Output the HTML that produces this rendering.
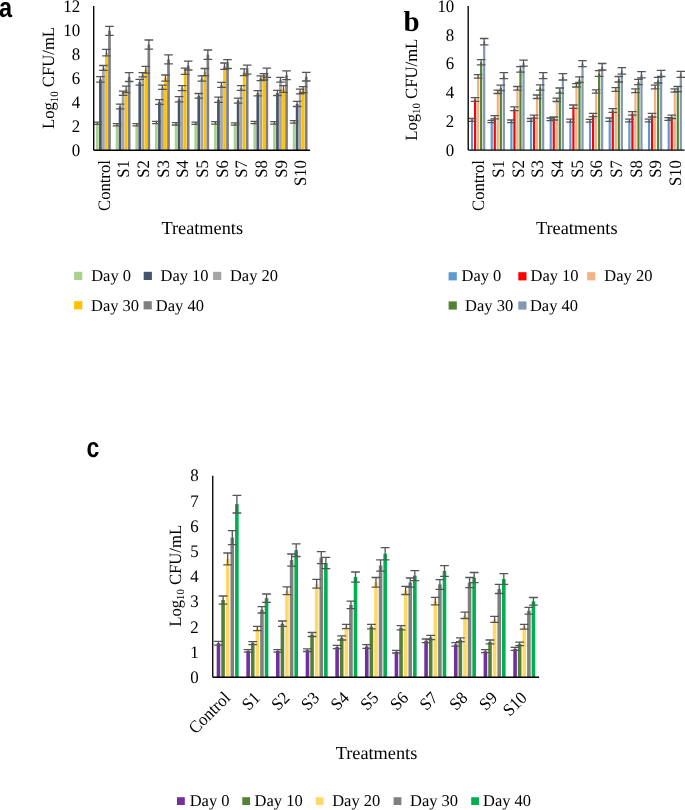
<!DOCTYPE html>
<html><head><meta charset="utf-8"><style>
html,body{margin:0;padding:0;background:#fff;}
body{width:685px;height:810px;overflow:hidden;}
svg{display:block;will-change:transform;}
text{font-family:"Liberation Serif", serif;fill:#000;text-rendering:geometricPrecision;}
.tk{font-size:17.6px;}
.xl{font-size:17.4px;}
.tr{font-size:18.3px;}
.yt{font-size:17.2px;}
.lg{font-size:16.5px;}
.lab{font-family:"Liberation Sans", sans-serif;font-weight:bold;font-size:28px;}
.labb{font-family:"Liberation Serif", serif;font-weight:bold;font-size:29px;}
</style></head><body>
<svg width="685" height="810" viewBox="0 0 685 810">
<rect x="96.03" y="123.3" width="2.7" height="26.7" fill="#A9D18E"/>
<rect x="99.06" y="79.4" width="2.7" height="70.6" fill="#44546A"/>
<rect x="102.09" y="67.9" width="2.7" height="82.1" fill="#A5A5A5"/>
<rect x="105.11" y="52.65" width="2.7" height="97.35" fill="#FFC000"/>
<rect x="108.14" y="30.8" width="2.7" height="119.2" fill="#7F7F7F"/>
<rect x="115.71" y="124.8" width="2.7" height="25.2" fill="#A9D18E"/>
<rect x="118.73" y="106.5" width="2.7" height="43.5" fill="#44546A"/>
<rect x="121.76" y="93.25" width="2.7" height="56.75" fill="#A5A5A5"/>
<rect x="124.79" y="89.35" width="2.7" height="60.65" fill="#FFC000"/>
<rect x="127.81" y="77.05" width="2.7" height="72.95" fill="#7F7F7F"/>
<rect x="135.38" y="124.8" width="2.7" height="25.2" fill="#A9D18E"/>
<rect x="138.41" y="82.25" width="2.7" height="67.75" fill="#44546A"/>
<rect x="141.43" y="74.75" width="2.7" height="75.25" fill="#A5A5A5"/>
<rect x="144.46" y="69.7" width="2.7" height="80.3" fill="#FFC000"/>
<rect x="147.48" y="44.55" width="2.7" height="105.45" fill="#7F7F7F"/>
<rect x="155.05" y="122.5" width="2.7" height="27.5" fill="#A9D18E"/>
<rect x="158.08" y="101.95" width="2.7" height="48.05" fill="#44546A"/>
<rect x="161.1" y="87.3" width="2.7" height="62.7" fill="#A5A5A5"/>
<rect x="164.13" y="78.05" width="2.7" height="71.95" fill="#FFC000"/>
<rect x="167.16" y="59.35" width="2.7" height="90.65" fill="#7F7F7F"/>
<rect x="174.72" y="123.8" width="2.7" height="26.2" fill="#A9D18E"/>
<rect x="177.75" y="99.3" width="2.7" height="50.7" fill="#44546A"/>
<rect x="180.78" y="88.2" width="2.7" height="61.8" fill="#A5A5A5"/>
<rect x="183.8" y="71.25" width="2.7" height="78.75" fill="#FFC000"/>
<rect x="186.83" y="65.55" width="2.7" height="84.45" fill="#7F7F7F"/>
<rect x="194.4" y="123.3" width="2.7" height="26.7" fill="#A9D18E"/>
<rect x="197.42" y="95.8" width="2.7" height="54.2" fill="#44546A"/>
<rect x="200.45" y="78.5" width="2.7" height="71.5" fill="#A5A5A5"/>
<rect x="203.48" y="72.05" width="2.7" height="77.95" fill="#FFC000"/>
<rect x="206.5" y="54.65" width="2.7" height="95.35" fill="#7F7F7F"/>
<rect x="214.07" y="122.9" width="2.7" height="27.1" fill="#A9D18E"/>
<rect x="217.1" y="99.8" width="2.7" height="50.2" fill="#44546A"/>
<rect x="220.12" y="84.9" width="2.7" height="65.1" fill="#A5A5A5"/>
<rect x="223.15" y="66.2" width="2.7" height="83.8" fill="#FFC000"/>
<rect x="226.18" y="64.05" width="2.7" height="85.95" fill="#7F7F7F"/>
<rect x="233.74" y="124" width="2.7" height="26" fill="#A9D18E"/>
<rect x="236.77" y="100.6" width="2.7" height="49.4" fill="#44546A"/>
<rect x="239.8" y="88.05" width="2.7" height="61.95" fill="#A5A5A5"/>
<rect x="242.82" y="72.25" width="2.7" height="77.75" fill="#FFC000"/>
<rect x="245.85" y="69.65" width="2.7" height="80.35" fill="#7F7F7F"/>
<rect x="253.42" y="122.5" width="2.7" height="27.5" fill="#A9D18E"/>
<rect x="256.44" y="93.3" width="2.7" height="56.7" fill="#44546A"/>
<rect x="259.47" y="78.25" width="2.7" height="71.75" fill="#A5A5A5"/>
<rect x="262.49" y="76.85" width="2.7" height="73.15" fill="#FFC000"/>
<rect x="265.52" y="72.75" width="2.7" height="77.25" fill="#7F7F7F"/>
<rect x="273.09" y="122.9" width="2.7" height="27.1" fill="#A9D18E"/>
<rect x="276.11" y="92.95" width="2.7" height="57.05" fill="#44546A"/>
<rect x="279.14" y="79.7" width="2.7" height="70.3" fill="#A5A5A5"/>
<rect x="282.17" y="89.05" width="2.7" height="60.95" fill="#FFC000"/>
<rect x="285.19" y="75.2" width="2.7" height="74.8" fill="#7F7F7F"/>
<rect x="292.76" y="121.9" width="2.7" height="28.1" fill="#A9D18E"/>
<rect x="295.79" y="103.9" width="2.7" height="46.1" fill="#44546A"/>
<rect x="298.81" y="91.55" width="2.7" height="58.45" fill="#A5A5A5"/>
<rect x="301.84" y="89.65" width="2.7" height="60.35" fill="#FFC000"/>
<rect x="304.87" y="76.65" width="2.7" height="73.35" fill="#7F7F7F"/>
<path d="M97.38 122.2V124.4M93.08 122.2h8.6M93.08 124.4h8.6M100.41 76.7V82.1M96.11 76.7h8.6M96.11 82.1h8.6M103.44 65.5V70.3M99.14 65.5h8.6M99.14 70.3h8.6M106.46 49.4V55.9M102.16 49.4h8.6M102.16 55.9h8.6M109.49 26.3V35.3M105.19 26.3h8.6M105.19 35.3h8.6M117.06 123.7V125.9M112.76 123.7h8.6M112.76 125.9h8.6M120.08 104.1V108.9M115.78 104.1h8.6M115.78 108.9h8.6M123.11 91.1V95.4M118.81 91.1h8.6M118.81 95.4h8.6M126.14 86.1V92.6M121.84 86.1h8.6M121.84 92.6h8.6M129.16 72.6V81.5M124.86 72.6h8.6M124.86 81.5h8.6M136.73 123.7V125.9M132.43 123.7h8.6M132.43 125.9h8.6M139.76 79.3V85.2M135.46 79.3h8.6M135.46 85.2h8.6M142.78 72.6V76.9M138.48 72.6h8.6M138.48 76.9h8.6M145.81 66.3V73.1M141.51 66.3h8.6M141.51 73.1h8.6M148.83 40V49.1M144.53 40h8.6M144.53 49.1h8.6M156.4 121.3V123.7M152.1 121.3h8.6M152.1 123.7h8.6M159.43 99.6V104.3M155.13 99.6h8.6M155.13 104.3h8.6M162.45 85.2V89.4M158.15 85.2h8.6M158.15 89.4h8.6M165.48 75V81.1M161.18 75h8.6M161.18 81.1h8.6M168.51 54.8V63.9M164.21 54.8h8.6M164.21 63.9h8.6M176.07 122.6V125M171.77 122.6h8.6M171.77 125h8.6M179.1 96.7V101.9M174.8 96.7h8.6M174.8 101.9h8.6M182.13 85.7V90.7M177.83 85.7h8.6M177.83 90.7h8.6M185.15 68.1V74.4M180.85 68.1h8.6M180.85 74.4h8.6M188.18 61.1V70M183.88 61.1h8.6M183.88 70h8.6M195.75 122.2V124.4M191.45 122.2h8.6M191.45 124.4h8.6M198.77 93.5V98.1M194.47 93.5h8.6M194.47 98.1h8.6M201.8 75.9V81.1M197.5 75.9h8.6M197.5 81.1h8.6M204.83 68.5V75.6M200.53 68.5h8.6M200.53 75.6h8.6M207.85 50V59.3M203.55 50h8.6M203.55 59.3h8.6M215.42 121.7V124.1M211.12 121.7h8.6M211.12 124.1h8.6M218.45 97.2V102.4M214.15 97.2h8.6M214.15 102.4h8.6M221.47 82.4V87.4M217.17 82.4h8.6M217.17 87.4h8.6M224.5 63V69.4M220.2 63h8.6M220.2 69.4h8.6M227.53 59.6V68.5M223.23 59.6h8.6M223.23 68.5h8.6M235.09 122.8V125.2M230.79 122.8h8.6M230.79 125.2h8.6M238.12 98.1V103.1M233.82 98.1h8.6M233.82 103.1h8.6M241.15 85.7V90.4M236.85 85.7h8.6M236.85 90.4h8.6M244.17 68.9V75.6M239.87 68.9h8.6M239.87 75.6h8.6M247.2 65.2V74.1M242.9 65.2h8.6M242.9 74.1h8.6M254.77 121.3V123.7M250.47 121.3h8.6M250.47 123.7h8.6M257.79 90.7V95.9M253.49 90.7h8.6M253.49 95.9h8.6M260.82 75.9V80.6M256.52 75.9h8.6M256.52 80.6h8.6M263.84 73.7V80M259.54 73.7h8.6M259.54 80h8.6M266.87 68.1V77.4M262.57 68.1h8.6M262.57 77.4h8.6M274.44 121.7V124.1M270.14 121.7h8.6M270.14 124.1h8.6M277.46 90.4V95.5M273.16 90.4h8.6M273.16 95.5h8.6M280.49 77.3V82.1M276.19 77.3h8.6M276.19 82.1h8.6M283.52 85.7V92.4M279.22 85.7h8.6M279.22 92.4h8.6M286.54 70.8V79.6M282.24 70.8h8.6M282.24 79.6h8.6M294.11 120.7V123.1M289.81 120.7h8.6M289.81 123.1h8.6M297.14 101.3V106.5M292.84 101.3h8.6M292.84 106.5h8.6M300.16 89.2V93.9M295.86 89.2h8.6M295.86 93.9h8.6M303.19 86.7V92.6M298.89 86.7h8.6M298.89 92.6h8.6M306.22 72.3V81M301.92 72.3h8.6M301.92 81h8.6" stroke="#555555" stroke-width="1.3" fill="none"/>
<path d="M93.7 6V150.2M93.7 150.2H310" stroke="#000" stroke-width="1.35" fill="none"/>
<text transform="translate(80.2 150) scale(0.96 1)" text-anchor="end" class="tk" dy="5.7">0</text>
<text transform="translate(80.2 126) scale(0.96 1)" text-anchor="end" class="tk" dy="5.7">2</text>
<text transform="translate(80.2 102) scale(0.96 1)" text-anchor="end" class="tk" dy="5.7">4</text>
<text transform="translate(80.2 78) scale(0.96 1)" text-anchor="end" class="tk" dy="5.7">6</text>
<text transform="translate(80.2 54) scale(0.96 1)" text-anchor="end" class="tk" dy="5.7">8</text>
<text transform="translate(80.2 30) scale(0.96 1)" text-anchor="end" class="tk" dy="5.7">10</text>
<text transform="translate(80.2 6) scale(0.96 1)" text-anchor="end" class="tk" dy="5.7">12</text>
<text transform="translate(103.44 160.2) rotate(-90) scale(0.955 1)" text-anchor="end" class="xl" dy="6.1">Control</text>
<text transform="translate(123.11 160.2) rotate(-90) scale(0.955 1)" text-anchor="end" class="xl" dy="6.1">S1</text>
<text transform="translate(142.78 160.2) rotate(-90) scale(0.955 1)" text-anchor="end" class="xl" dy="6.1">S2</text>
<text transform="translate(162.45 160.2) rotate(-90) scale(0.955 1)" text-anchor="end" class="xl" dy="6.1">S3</text>
<text transform="translate(182.13 160.2) rotate(-90) scale(0.955 1)" text-anchor="end" class="xl" dy="6.1">S4</text>
<text transform="translate(201.8 160.2) rotate(-90) scale(0.955 1)" text-anchor="end" class="xl" dy="6.1">S5</text>
<text transform="translate(221.47 160.2) rotate(-90) scale(0.955 1)" text-anchor="end" class="xl" dy="6.1">S6</text>
<text transform="translate(241.15 160.2) rotate(-90) scale(0.955 1)" text-anchor="end" class="xl" dy="6.1">S7</text>
<text transform="translate(260.82 160.2) rotate(-90) scale(0.955 1)" text-anchor="end" class="xl" dy="6.1">S8</text>
<text transform="translate(280.49 160.2) rotate(-90) scale(0.955 1)" text-anchor="end" class="xl" dy="6.1">S9</text>
<text transform="translate(300.16 160.2) rotate(-90) scale(0.955 1)" text-anchor="end" class="xl" dy="6.1">S10</text>
<text transform="translate(202.2 233.9) scale(1.0 1)" text-anchor="middle" class="tr">Treatments</text>
<text transform="translate(54.3 78) rotate(-90) scale(0.97 1)" text-anchor="middle" class="yt">Log<tspan font-size="11.2" dy="3.2">10</tspan><tspan dy="-3.2"> CFU/mL</tspan></text>
<rect x="74.1" y="271.8" width="8.2" height="8.2" fill="#A9D18E"/>
<text x="91.2" y="281.2" class="lg">Day 0</text>
<rect x="143.7" y="271.8" width="8.2" height="8.2" fill="#44546A"/>
<text x="160.5" y="281.2" class="lg">Day 10</text>
<rect x="213.1" y="271.8" width="8.2" height="8.2" fill="#A5A5A5"/>
<text x="229.9" y="281.2" class="lg">Day 20</text>
<rect x="74.1" y="301.2" width="8.2" height="8.2" fill="#FFC000"/>
<text x="91" y="310.5" class="lg">Day 30</text>
<rect x="143.6" y="301.2" width="8.2" height="8.2" fill="#7F7F7F"/>
<text x="155.8" y="310.5" class="lg">Day 40</text>
<text transform="translate(-0.9 17.3) scale(0.84 1)" class="lab">a</text>
<rect x="470.98" y="119.9" width="2.2" height="30.1" fill="#5B9BD5"/>
<rect x="474.01" y="99.45" width="2.2" height="50.55" fill="#FF0000"/>
<rect x="477.03" y="76.35" width="2.2" height="73.65" fill="#F4B183"/>
<rect x="480.06" y="62.2" width="2.2" height="87.8" fill="#548235"/>
<rect x="483.08" y="41.65" width="2.2" height="108.35" fill="#8497B0"/>
<rect x="490.65" y="121.5" width="2.2" height="28.5" fill="#5B9BD5"/>
<rect x="493.67" y="117.3" width="2.2" height="32.7" fill="#FF0000"/>
<rect x="496.7" y="91.85" width="2.2" height="58.15" fill="#F4B183"/>
<rect x="499.72" y="87.95" width="2.2" height="62.05" fill="#548235"/>
<rect x="502.75" y="75.65" width="2.2" height="74.35" fill="#8497B0"/>
<rect x="510.31" y="121.3" width="2.2" height="28.7" fill="#5B9BD5"/>
<rect x="513.33" y="108.75" width="2.2" height="41.25" fill="#FF0000"/>
<rect x="516.36" y="88.35" width="2.2" height="61.65" fill="#F4B183"/>
<rect x="519.38" y="69.45" width="2.2" height="80.55" fill="#548235"/>
<rect x="522.41" y="63.15" width="2.2" height="86.85" fill="#8497B0"/>
<rect x="529.97" y="119.9" width="2.2" height="30.1" fill="#5B9BD5"/>
<rect x="533" y="116.65" width="2.2" height="33.35" fill="#FF0000"/>
<rect x="536.02" y="96.75" width="2.2" height="53.25" fill="#F4B183"/>
<rect x="539.05" y="87.5" width="2.2" height="62.5" fill="#548235"/>
<rect x="542.07" y="75.65" width="2.2" height="74.35" fill="#8497B0"/>
<rect x="549.64" y="119.35" width="2.2" height="30.65" fill="#5B9BD5"/>
<rect x="552.66" y="118.5" width="2.2" height="31.5" fill="#FF0000"/>
<rect x="555.69" y="99.8" width="2.2" height="50.2" fill="#F4B183"/>
<rect x="558.71" y="90.55" width="2.2" height="59.45" fill="#548235"/>
<rect x="561.74" y="76.85" width="2.2" height="73.15" fill="#8497B0"/>
<rect x="569.3" y="120.65" width="2.2" height="29.35" fill="#5B9BD5"/>
<rect x="572.32" y="106.65" width="2.2" height="43.35" fill="#FF0000"/>
<rect x="575.35" y="85.35" width="2.2" height="64.65" fill="#F4B183"/>
<rect x="578.38" y="79.65" width="2.2" height="70.35" fill="#548235"/>
<rect x="581.4" y="63.65" width="2.2" height="86.35" fill="#8497B0"/>
<rect x="588.96" y="120.8" width="2.2" height="29.2" fill="#5B9BD5"/>
<rect x="591.99" y="115" width="2.2" height="35" fill="#FF0000"/>
<rect x="595.01" y="91.45" width="2.2" height="58.55" fill="#F4B183"/>
<rect x="598.04" y="73.5" width="2.2" height="76.5" fill="#548235"/>
<rect x="601.06" y="66.75" width="2.2" height="83.25" fill="#8497B0"/>
<rect x="608.63" y="119.65" width="2.2" height="30.35" fill="#5B9BD5"/>
<rect x="611.65" y="110.55" width="2.2" height="39.45" fill="#FF0000"/>
<rect x="614.68" y="89.45" width="2.2" height="60.55" fill="#F4B183"/>
<rect x="617.7" y="79.25" width="2.2" height="70.75" fill="#548235"/>
<rect x="620.73" y="70.85" width="2.2" height="79.15" fill="#8497B0"/>
<rect x="628.29" y="120.5" width="2.2" height="29.5" fill="#5B9BD5"/>
<rect x="631.32" y="113.45" width="2.2" height="36.55" fill="#FF0000"/>
<rect x="634.34" y="90.75" width="2.2" height="59.25" fill="#F4B183"/>
<rect x="637.37" y="81.95" width="2.2" height="68.05" fill="#548235"/>
<rect x="640.39" y="74.75" width="2.2" height="75.25" fill="#8497B0"/>
<rect x="647.95" y="120.5" width="2.2" height="29.5" fill="#5B9BD5"/>
<rect x="650.98" y="115.15" width="2.2" height="34.85" fill="#FF0000"/>
<rect x="654" y="87.05" width="2.2" height="62.95" fill="#F4B183"/>
<rect x="657.03" y="80.2" width="2.2" height="69.8" fill="#548235"/>
<rect x="660.05" y="73.45" width="2.2" height="76.55" fill="#8497B0"/>
<rect x="667.62" y="119" width="2.2" height="31" fill="#5B9BD5"/>
<rect x="670.64" y="116.85" width="2.2" height="33.15" fill="#FF0000"/>
<rect x="673.67" y="90.55" width="2.2" height="59.45" fill="#F4B183"/>
<rect x="676.69" y="89.1" width="2.2" height="60.9" fill="#548235"/>
<rect x="679.72" y="74.35" width="2.2" height="75.65" fill="#8497B0"/>
<path d="M472.08 118.5V121.3M467.78 118.5h8.6M467.78 121.3h8.6M475.11 97.6V101.3M470.81 97.6h8.6M470.81 101.3h8.6M478.13 74.6V78.1M473.83 74.6h8.6M473.83 78.1h8.6M481.16 59.6V64.8M476.86 59.6h8.6M476.86 64.8h8.6M484.18 38.5V44.8M479.88 38.5h8.6M479.88 44.8h8.6M491.75 120.4V122.6M487.45 120.4h8.6M487.45 122.6h8.6M494.77 115.7V118.9M490.47 115.7h8.6M490.47 118.9h8.6M497.8 90.2V93.5M493.5 90.2h8.6M493.5 93.5h8.6M500.82 85.2V90.7M496.52 85.2h8.6M496.52 90.7h8.6M503.85 72.6V78.7M499.55 72.6h8.6M499.55 78.7h8.6M511.41 120V122.6M507.11 120h8.6M507.11 122.6h8.6M514.43 106.9V110.6M510.13 106.9h8.6M510.13 110.6h8.6M517.46 86.5V90.2M513.16 86.5h8.6M513.16 90.2h8.6M520.48 66.7V72.2M516.18 66.7h8.6M516.18 72.2h8.6M523.51 60.2V66.1M519.21 60.2h8.6M519.21 66.1h8.6M531.07 118.5V121.3M526.77 118.5h8.6M526.77 121.3h8.6M534.1 115.2V118.1M529.8 115.2h8.6M529.8 118.1h8.6M537.12 95V98.5M532.82 95h8.6M532.82 98.5h8.6M540.15 84.8V90.2M535.85 84.8h8.6M535.85 90.2h8.6M543.17 72.6V78.7M538.87 72.6h8.6M538.87 78.7h8.6M550.74 118V120.7M546.44 118h8.6M546.44 120.7h8.6M553.76 117V120M549.46 117h8.6M549.46 120h8.6M556.79 98.1V101.5M552.49 98.1h8.6M552.49 101.5h8.6M559.81 88V93.1M555.51 88h8.6M555.51 93.1h8.6M562.84 73.7V80M558.54 73.7h8.6M558.54 80h8.6M570.4 119.1V122.2M566.1 119.1h8.6M566.1 122.2h8.6M573.42 105V108.3M569.12 105h8.6M569.12 108.3h8.6M576.45 83.7V87M572.15 83.7h8.6M572.15 87h8.6M579.48 76.9V82.4M575.18 76.9h8.6M575.18 82.4h8.6M582.5 60.6V66.7M578.2 60.6h8.6M578.2 66.7h8.6M590.06 119.4V122.2M585.76 119.4h8.6M585.76 122.2h8.6M593.09 113.3V116.7M588.79 113.3h8.6M588.79 116.7h8.6M596.11 89.8V93.1M591.81 89.8h8.6M591.81 93.1h8.6M599.14 70.7V76.3M594.84 70.7h8.6M594.84 76.3h8.6M602.16 63.5V70M597.86 63.5h8.6M597.86 70h8.6M609.73 118V121.3M605.43 118h8.6M605.43 121.3h8.6M612.75 108.7V112.4M608.45 108.7h8.6M608.45 112.4h8.6M615.78 87.6V91.3M611.48 87.6h8.6M611.48 91.3h8.6M618.8 76.5V82M614.5 76.5h8.6M614.5 82h8.6M621.83 67.6V74.1M617.53 67.6h8.6M617.53 74.1h8.6M629.39 119.1V121.9M625.09 119.1h8.6M625.09 121.9h8.6M632.42 111.7V115.2M628.12 111.7h8.6M628.12 115.2h8.6M635.44 88.9V92.6M631.14 88.9h8.6M631.14 92.6h8.6M638.47 79.3V84.6M634.17 79.3h8.6M634.17 84.6h8.6M641.49 71.7V77.8M637.19 71.7h8.6M637.19 77.8h8.6M649.05 119.1V121.9M644.75 119.1h8.6M644.75 121.9h8.6M652.08 113.3V117M647.78 113.3h8.6M647.78 117h8.6M655.1 85.2V88.9M650.8 85.2h8.6M650.8 88.9h8.6M658.13 77.4V83M653.83 77.4h8.6M653.83 83h8.6M661.15 70.4V76.5M656.85 70.4h8.6M656.85 76.5h8.6M668.72 117.6V120.4M664.42 117.6h8.6M664.42 120.4h8.6M671.74 115.2V118.5M667.44 115.2h8.6M667.44 118.5h8.6M674.77 88.9V92.2M670.47 88.9h8.6M670.47 92.2h8.6M677.79 86.5V91.7M673.49 86.5h8.6M673.49 91.7h8.6M680.82 71.3V77.4M676.52 71.3h8.6M676.52 77.4h8.6" stroke="#555555" stroke-width="1.3" fill="none"/>
<path d="M468.2 6V150.1M468.2 150.1H684.6" stroke="#000" stroke-width="1.35" fill="none"/>
<text transform="translate(454.3 150) scale(0.96 1)" text-anchor="end" class="tk" dy="5.7">0</text>
<text transform="translate(454.3 121.2) scale(0.96 1)" text-anchor="end" class="tk" dy="5.7">2</text>
<text transform="translate(454.3 92.4) scale(0.96 1)" text-anchor="end" class="tk" dy="5.7">4</text>
<text transform="translate(454.3 63.6) scale(0.96 1)" text-anchor="end" class="tk" dy="5.7">6</text>
<text transform="translate(454.3 34.8) scale(0.96 1)" text-anchor="end" class="tk" dy="5.7">8</text>
<text transform="translate(454.3 6) scale(0.96 1)" text-anchor="end" class="tk" dy="5.7">10</text>
<text transform="translate(478.13 160.2) rotate(-90) scale(0.955 1)" text-anchor="end" class="xl" dy="6.1">Control</text>
<text transform="translate(497.8 160.2) rotate(-90) scale(0.955 1)" text-anchor="end" class="xl" dy="6.1">S1</text>
<text transform="translate(517.46 160.2) rotate(-90) scale(0.955 1)" text-anchor="end" class="xl" dy="6.1">S2</text>
<text transform="translate(537.12 160.2) rotate(-90) scale(0.955 1)" text-anchor="end" class="xl" dy="6.1">S3</text>
<text transform="translate(556.79 160.2) rotate(-90) scale(0.955 1)" text-anchor="end" class="xl" dy="6.1">S4</text>
<text transform="translate(576.45 160.2) rotate(-90) scale(0.955 1)" text-anchor="end" class="xl" dy="6.1">S5</text>
<text transform="translate(596.11 160.2) rotate(-90) scale(0.955 1)" text-anchor="end" class="xl" dy="6.1">S6</text>
<text transform="translate(615.78 160.2) rotate(-90) scale(0.955 1)" text-anchor="end" class="xl" dy="6.1">S7</text>
<text transform="translate(635.44 160.2) rotate(-90) scale(0.955 1)" text-anchor="end" class="xl" dy="6.1">S8</text>
<text transform="translate(655.1 160.2) rotate(-90) scale(0.955 1)" text-anchor="end" class="xl" dy="6.1">S9</text>
<text transform="translate(674.77 160.2) rotate(-90) scale(0.955 1)" text-anchor="end" class="xl" dy="6.1">S10</text>
<text transform="translate(576.7 233.9) scale(1.0 1)" text-anchor="middle" class="tr">Treatments</text>
<text transform="translate(416.8 89.75) rotate(-90) scale(0.97 1)" text-anchor="middle" class="yt">Log<tspan font-size="11.2" dy="3.2">10</tspan><tspan dy="-3.2"> CFU/mL</tspan></text>
<rect x="448.6" y="272.2" width="8.2" height="8.2" fill="#5B9BD5"/>
<text x="461.5" y="281.2" class="lg">Day 0</text>
<rect x="518.3" y="272.2" width="8.2" height="8.2" fill="#FF0000"/>
<text x="530.5" y="281.2" class="lg">Day 10</text>
<rect x="587.2" y="272.2" width="8.2" height="8.2" fill="#F4B183"/>
<text x="604.3" y="281.2" class="lg">Day 20</text>
<rect x="448.6" y="301.4" width="8.2" height="8.2" fill="#548235"/>
<text x="465.1" y="310.5" class="lg">Day 30</text>
<rect x="518.3" y="301.4" width="8.2" height="8.2" fill="#8497B0"/>
<text x="529.9" y="310.5" class="lg">Day 40</text>
<text x="403.5" y="31.3" class="labb">b</text>
<rect x="216.68" y="643.2" width="3.6" height="34" fill="#7030A0"/>
<rect x="221.28" y="600.05" width="3.6" height="77.15" fill="#548235"/>
<rect x="225.88" y="558.95" width="3.6" height="118.25" fill="#FFD966"/>
<rect x="230.48" y="537.65" width="3.6" height="139.55" fill="#808080"/>
<rect x="235.08" y="504.15" width="3.6" height="173.05" fill="#00B050"/>
<rect x="246.34" y="650.95" width="3.6" height="26.25" fill="#7030A0"/>
<rect x="250.94" y="643.1" width="3.6" height="34.1" fill="#548235"/>
<rect x="255.54" y="628.55" width="3.6" height="48.65" fill="#FFD966"/>
<rect x="260.14" y="609.8" width="3.6" height="67.4" fill="#808080"/>
<rect x="264.74" y="598.15" width="3.6" height="79.05" fill="#00B050"/>
<rect x="276" y="650.95" width="3.6" height="26.25" fill="#7030A0"/>
<rect x="280.6" y="623.7" width="3.6" height="53.5" fill="#548235"/>
<rect x="285.2" y="590.8" width="3.6" height="86.4" fill="#FFD966"/>
<rect x="289.8" y="560.05" width="3.6" height="117.15" fill="#808080"/>
<rect x="294.4" y="550.2" width="3.6" height="127" fill="#00B050"/>
<rect x="305.66" y="650.2" width="3.6" height="27" fill="#7030A0"/>
<rect x="310.26" y="634.5" width="3.6" height="42.7" fill="#548235"/>
<rect x="314.86" y="583.75" width="3.6" height="93.45" fill="#FFD966"/>
<rect x="319.46" y="557.65" width="3.6" height="119.55" fill="#808080"/>
<rect x="324.06" y="563" width="3.6" height="114.2" fill="#00B050"/>
<rect x="335.32" y="647.05" width="3.6" height="30.15" fill="#7030A0"/>
<rect x="339.92" y="637.9" width="3.6" height="39.3" fill="#548235"/>
<rect x="344.52" y="626.55" width="3.6" height="50.65" fill="#FFD966"/>
<rect x="349.12" y="604.9" width="3.6" height="72.3" fill="#808080"/>
<rect x="353.72" y="577.05" width="3.6" height="100.15" fill="#00B050"/>
<rect x="364.97" y="646.5" width="3.6" height="30.7" fill="#7030A0"/>
<rect x="369.57" y="626.65" width="3.6" height="50.55" fill="#548235"/>
<rect x="374.17" y="582.35" width="3.6" height="94.85" fill="#FFD966"/>
<rect x="378.77" y="565.5" width="3.6" height="111.7" fill="#808080"/>
<rect x="383.37" y="553.75" width="3.6" height="123.45" fill="#00B050"/>
<rect x="394.63" y="651.7" width="3.6" height="25.5" fill="#7030A0"/>
<rect x="399.23" y="627.75" width="3.6" height="49.45" fill="#548235"/>
<rect x="403.83" y="590.45" width="3.6" height="86.75" fill="#FFD966"/>
<rect x="408.43" y="582.6" width="3.6" height="94.6" fill="#808080"/>
<rect x="413.03" y="575.65" width="3.6" height="101.55" fill="#00B050"/>
<rect x="424.29" y="640.8" width="3.6" height="36.4" fill="#7030A0"/>
<rect x="428.89" y="637.45" width="3.6" height="39.75" fill="#548235"/>
<rect x="433.49" y="601.1" width="3.6" height="76.1" fill="#FFD966"/>
<rect x="438.09" y="584.5" width="3.6" height="92.7" fill="#808080"/>
<rect x="442.69" y="570.95" width="3.6" height="106.25" fill="#00B050"/>
<rect x="453.95" y="644.35" width="3.6" height="32.85" fill="#7030A0"/>
<rect x="458.55" y="639.7" width="3.6" height="37.5" fill="#548235"/>
<rect x="463.15" y="615.35" width="3.6" height="61.85" fill="#FFD966"/>
<rect x="467.75" y="582.6" width="3.6" height="94.6" fill="#808080"/>
<rect x="472.35" y="577.55" width="3.6" height="99.65" fill="#00B050"/>
<rect x="483.61" y="651.2" width="3.6" height="26" fill="#7030A0"/>
<rect x="488.21" y="641.95" width="3.6" height="35.25" fill="#548235"/>
<rect x="492.81" y="619.3" width="3.6" height="57.9" fill="#FFD966"/>
<rect x="497.41" y="588.95" width="3.6" height="88.25" fill="#808080"/>
<rect x="502.01" y="579.05" width="3.6" height="98.15" fill="#00B050"/>
<rect x="513.27" y="648.9" width="3.6" height="28.3" fill="#7030A0"/>
<rect x="517.87" y="643.9" width="3.6" height="33.3" fill="#548235"/>
<rect x="522.47" y="626.8" width="3.6" height="50.4" fill="#FFD966"/>
<rect x="527.07" y="610.8" width="3.6" height="66.4" fill="#808080"/>
<rect x="531.67" y="601.35" width="3.6" height="75.85" fill="#00B050"/>
<path d="M218.48 641.3V645.1M214.08 641.3h8.8M214.08 645.1h8.8M223.08 596V604.1M218.68 596h8.8M218.68 604.1h8.8M227.68 553V564.9M223.28 553h8.8M223.28 564.9h8.8M232.28 530.7V544.6M227.88 530.7h8.8M227.88 544.6h8.8M236.88 495.3V513M232.48 495.3h8.8M232.48 513h8.8M248.14 649.7V652.2M243.74 649.7h8.8M243.74 652.2h8.8M252.74 641.6V644.6M248.34 641.6h8.8M248.34 644.6h8.8M257.34 626.4V630.7M252.94 626.4h8.8M252.94 630.7h8.8M261.94 606.6V613M257.54 606.6h8.8M257.54 613h8.8M266.54 594V602.3M262.14 594h8.8M262.14 602.3h8.8M277.8 649.7V652.2M273.4 649.7h8.8M273.4 652.2h8.8M282.4 621V626.4M278 621h8.8M278 626.4h8.8M287 586.9V594.7M282.6 586.9h8.8M282.6 594.7h8.8M291.6 554V566.1M287.2 554h8.8M287.2 566.1h8.8M296.2 543.9V556.5M291.8 543.9h8.8M291.8 556.5h8.8M307.46 648.9V651.5M303.06 648.9h8.8M303.06 651.5h8.8M312.06 632.5V636.5M307.66 632.5h8.8M307.66 636.5h8.8M316.66 579.3V588.2M312.26 579.3h8.8M312.26 588.2h8.8M321.26 551.7V563.6M316.86 551.7h8.8M316.86 563.6h8.8M325.86 557.3V568.7M321.46 557.3h8.8M321.46 568.7h8.8M337.12 645.4V648.7M332.72 645.4h8.8M332.72 648.7h8.8M341.72 635.8V640M337.32 635.8h8.8M337.32 640h8.8M346.32 624.4V628.7M341.92 624.4h8.8M341.92 628.7h8.8M350.92 601.1V608.7M346.52 601.1h8.8M346.52 608.7h8.8M355.52 572V582.1M351.12 572h8.8M351.12 582.1h8.8M366.77 644.6V648.4M362.38 644.6h8.8M362.38 648.4h8.8M371.38 624.4V628.9M366.98 624.4h8.8M366.98 628.9h8.8M375.97 577.5V587.2M371.57 577.5h8.8M371.57 587.2h8.8M380.57 559.8V571.2M376.18 559.8h8.8M376.18 571.2h8.8M385.17 547.7V559.8M380.77 547.7h8.8M380.77 559.8h8.8M396.43 650.4V653M392.03 650.4h8.8M392.03 653h8.8M401.03 625.6V629.9M396.63 625.6h8.8M396.63 629.9h8.8M405.63 586.4V594.5M401.23 586.4h8.8M401.23 594.5h8.8M410.23 578V587.2M405.83 578h8.8M405.83 587.2h8.8M414.83 570.7V580.6M410.43 570.7h8.8M410.43 580.6h8.8M426.09 639V642.6M421.69 639h8.8M421.69 642.6h8.8M430.69 635.3V639.6M426.29 635.3h8.8M426.29 639.6h8.8M435.29 597.3V604.9M430.89 597.3h8.8M430.89 604.9h8.8M439.89 579.6V589.4M435.49 579.6h8.8M435.49 589.4h8.8M444.49 565.6V576.3M440.09 565.6h8.8M440.09 576.3h8.8M455.75 642.6V646.1M451.35 642.6h8.8M451.35 646.1h8.8M460.35 637.8V641.6M455.95 637.8h8.8M455.95 641.6h8.8M464.95 612.2V618.5M460.55 612.2h8.8M460.55 618.5h8.8M469.55 577.5V587.7M465.15 577.5h8.8M465.15 587.7h8.8M474.15 572.5V582.6M469.75 572.5h8.8M469.75 582.6h8.8M485.41 649.7V652.7M481.01 649.7h8.8M481.01 652.7h8.8M490.01 640V643.9M485.61 640h8.8M485.61 643.9h8.8M494.61 616.3V622.3M490.21 616.3h8.8M490.21 622.3h8.8M499.21 584.4V593.5M494.81 584.4h8.8M494.81 593.5h8.8M503.81 573.7V584.4M499.41 573.7h8.8M499.41 584.4h8.8M515.07 647.4V650.4M510.67 647.4h8.8M510.67 650.4h8.8M519.67 642.2V645.6M515.27 642.2h8.8M515.27 645.6h8.8M524.27 624.4V629.2M519.87 624.4h8.8M519.87 629.2h8.8M528.87 607.4V614.2M524.47 607.4h8.8M524.47 614.2h8.8M533.47 597.5V605.2M529.07 597.5h8.8M529.07 605.2h8.8" stroke="#555555" stroke-width="1.3" fill="none"/>
<path d="M212.75 475.8V677.25M212.75 677.25H539.1" stroke="#000" stroke-width="1.35" fill="none"/>
<text transform="translate(198.8 677.2) scale(0.96 1)" text-anchor="end" class="tk" dy="5.7">0</text>
<text transform="translate(198.8 652) scale(0.96 1)" text-anchor="end" class="tk" dy="5.7">1</text>
<text transform="translate(198.8 626.8) scale(0.96 1)" text-anchor="end" class="tk" dy="5.7">2</text>
<text transform="translate(198.8 601.6) scale(0.96 1)" text-anchor="end" class="tk" dy="5.7">3</text>
<text transform="translate(198.8 576.4) scale(0.96 1)" text-anchor="end" class="tk" dy="5.7">4</text>
<text transform="translate(198.8 551.2) scale(0.96 1)" text-anchor="end" class="tk" dy="5.7">5</text>
<text transform="translate(198.8 526) scale(0.96 1)" text-anchor="end" class="tk" dy="5.7">6</text>
<text transform="translate(198.8 500.8) scale(0.96 1)" text-anchor="end" class="tk" dy="5.7">7</text>
<text transform="translate(198.8 475.6) scale(0.96 1)" text-anchor="end" class="tk" dy="5.7">8</text>
<text transform="translate(231.38 698.8) rotate(-45) scale(0.955 1)" text-anchor="end" class="xl">Control</text>
<text transform="translate(261.04 698.8) rotate(-45) scale(0.955 1)" text-anchor="end" class="xl">S1</text>
<text transform="translate(290.7 698.8) rotate(-45) scale(0.955 1)" text-anchor="end" class="xl">S2</text>
<text transform="translate(320.36 698.8) rotate(-45) scale(0.955 1)" text-anchor="end" class="xl">S3</text>
<text transform="translate(350.02 698.8) rotate(-45) scale(0.955 1)" text-anchor="end" class="xl">S4</text>
<text transform="translate(379.68 698.8) rotate(-45) scale(0.955 1)" text-anchor="end" class="xl">S5</text>
<text transform="translate(409.33 698.8) rotate(-45) scale(0.955 1)" text-anchor="end" class="xl">S6</text>
<text transform="translate(438.99 698.8) rotate(-45) scale(0.955 1)" text-anchor="end" class="xl">S7</text>
<text transform="translate(468.65 698.8) rotate(-45) scale(0.955 1)" text-anchor="end" class="xl">S8</text>
<text transform="translate(498.31 698.8) rotate(-45) scale(0.955 1)" text-anchor="end" class="xl">S9</text>
<text transform="translate(527.97 698.8) rotate(-45) scale(0.955 1)" text-anchor="end" class="xl">S10</text>
<text transform="translate(376.45 759.2) scale(1.0 1)" text-anchor="middle" class="tr">Treatments</text>
<text transform="translate(180.8 575.8) rotate(-90) scale(0.97 1)" text-anchor="middle" class="yt">Log<tspan font-size="11" dy="3.2">10</tspan><tspan dy="-3.2"> CFU/mL</tspan></text>
<rect x="177" y="797.2" width="7.8" height="7.8" fill="#7030A0"/>
<text x="189.7" y="806.2" class="lg">Day 0</text>
<rect x="242.3" y="797.2" width="7.8" height="7.8" fill="#548235"/>
<text x="254.6" y="806.2" class="lg">Day 10</text>
<rect x="315.8" y="797.2" width="7.8" height="7.8" fill="#FFD966"/>
<text x="332.2" y="806.2" class="lg">Day 20</text>
<rect x="393.6" y="797.2" width="7.8" height="7.8" fill="#808080"/>
<text x="410" y="806.2" class="lg">Day 30</text>
<rect x="471.2" y="797.2" width="7.8" height="7.8" fill="#00B050"/>
<text x="483" y="806.2" class="lg">Day 40</text>
<text transform="translate(86.6 457) scale(0.82 1)" class="lab">c</text>
</svg>
</body></html>
